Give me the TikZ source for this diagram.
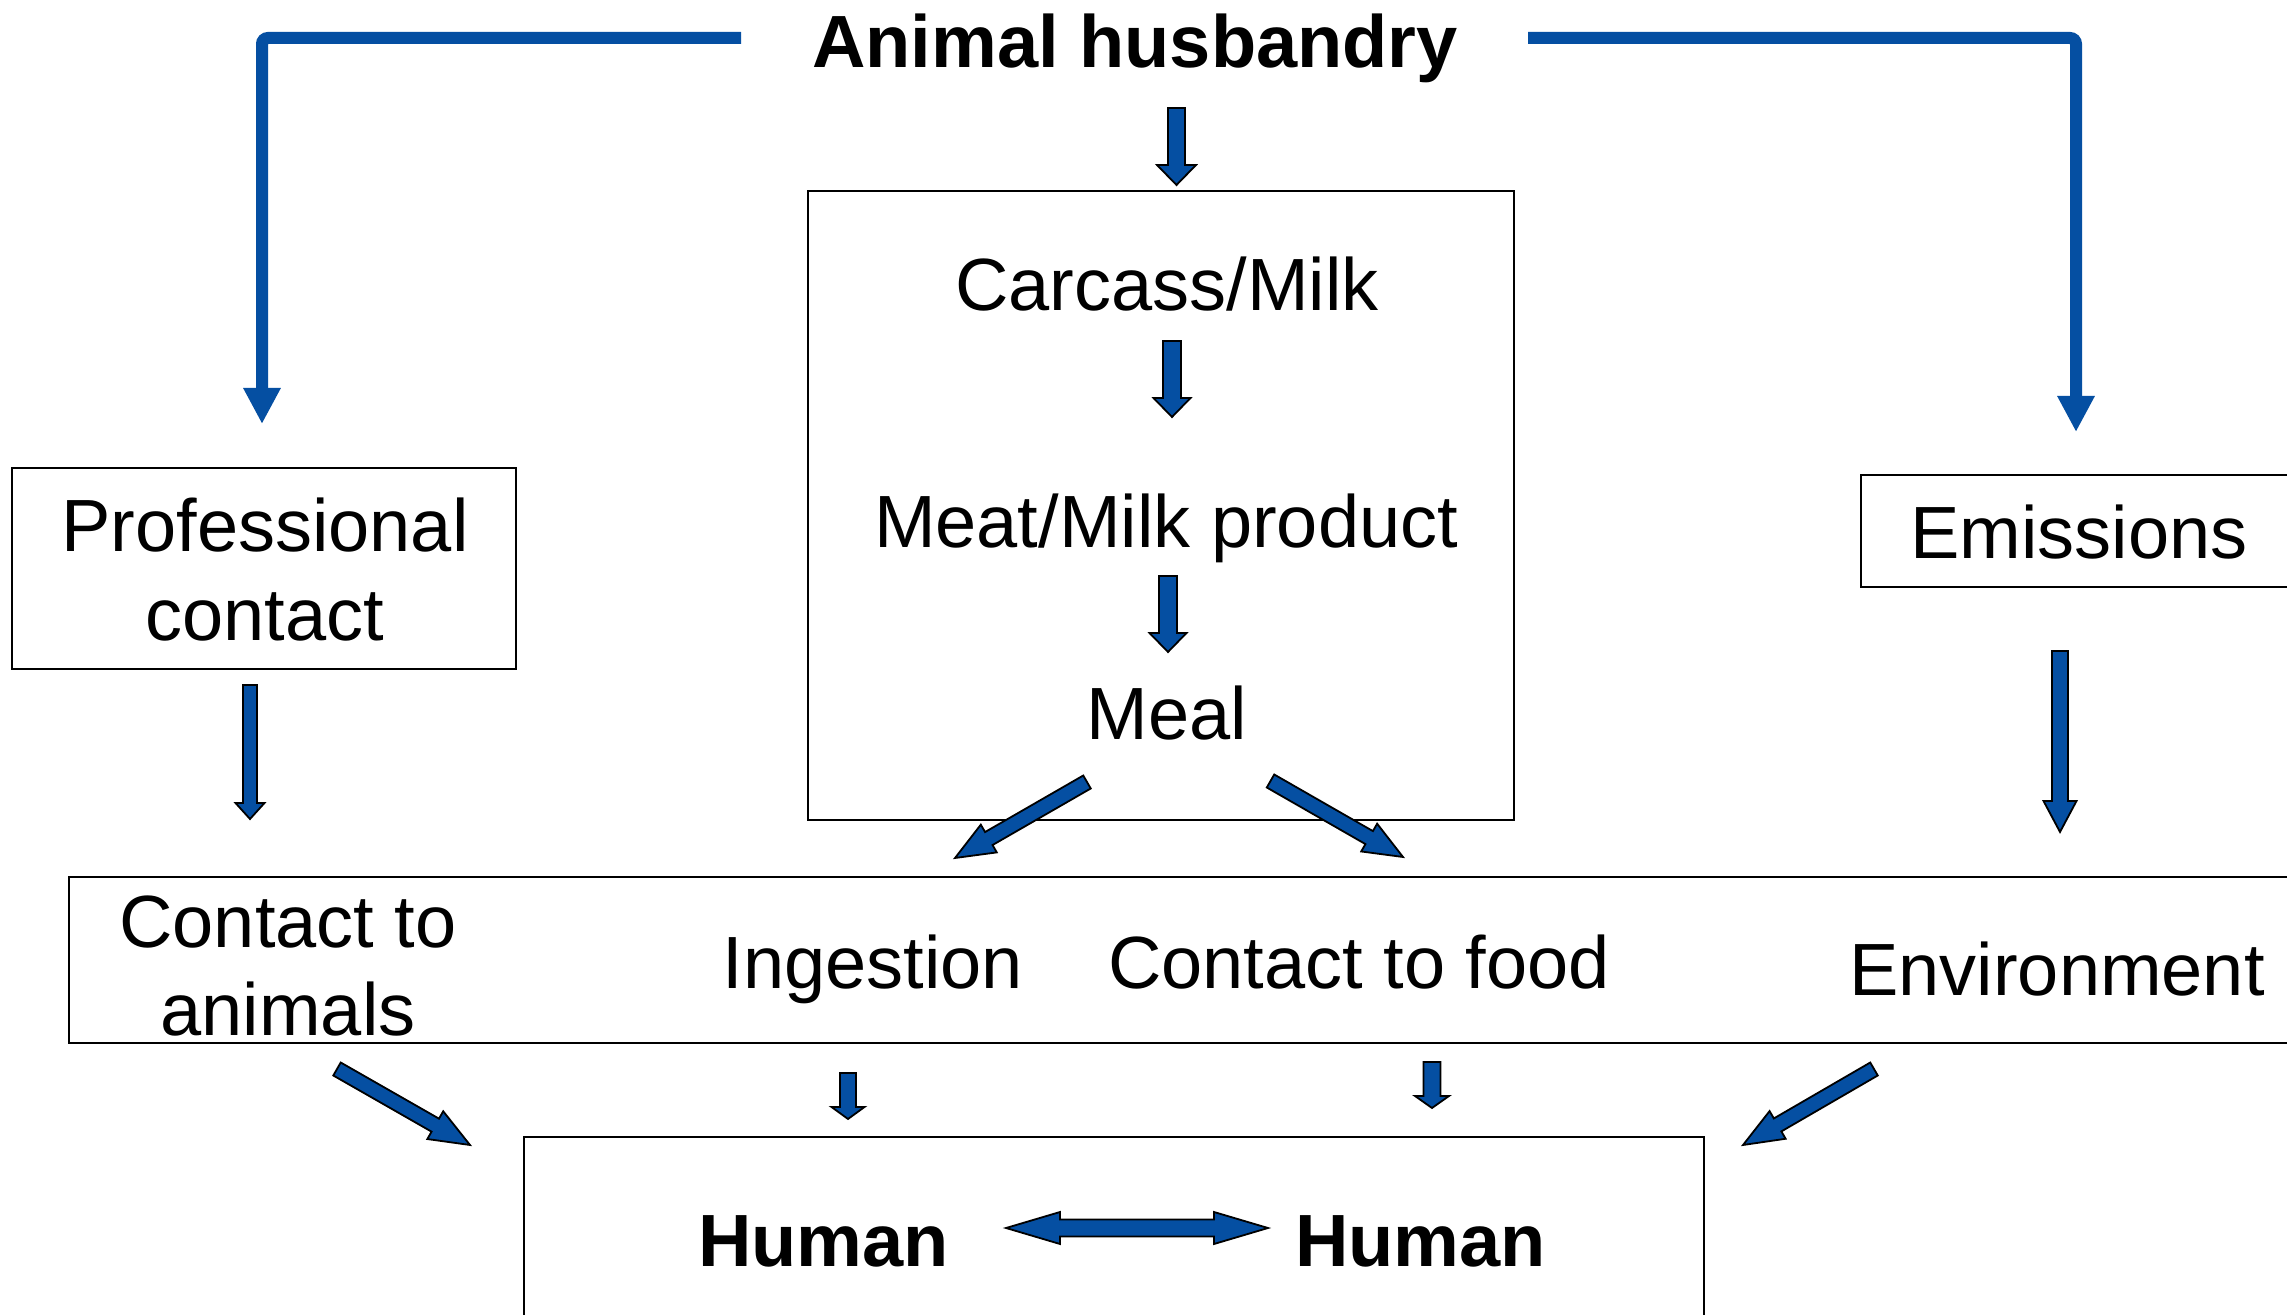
\documentclass[tikz,border=0pt]{standalone}
\usepackage{fontspec}
\setmainfont{Liberation Sans}
\usetikzlibrary{arrows.meta}
\definecolor{abblue}{RGB}{5,79,162}
\newcommand\twoline[3]{\vtop{\baselineskip=#3\halign{\hfil##\hfil\cr #1\cr #2\cr}}}
% block arrow: x1 y1 x2 y2 shaft-width head-width head-length (px)
\newcommand\barrow[7]{%
  \pgfmathsetmacro\bdx{#3-#1}%
  \pgfmathsetmacro\bdy{#4-#2}%
  \pgfmathsetmacro\bL{veclen(\bdx,\bdy)}%
  \pgfmathsetmacro\bA{atan2(-\bdy,\bdx)}%
  \pgfmathsetmacro\bB{\bL-#7}%
  \pgfmathsetmacro\bs{#5/2}%
  \pgfmathsetmacro\bh{#6/2}%
  \draw[blk, shift={(#1,#2)}, rotate=\bA] (0,\bs) -- (\bB,\bs) -- (\bB,\bh) -- (\bL,0) -- (\bB,-\bh) -- (\bB,-\bs) -- (0,-\bs) -- cycle;
}
\newcommand\dbarrow[7]{%
  \pgfmathsetmacro\bdx{#3-#1}%
  \pgfmathsetmacro\bdy{#4-#2}%
  \pgfmathsetmacro\bL{veclen(\bdx,\bdy)}%
  \pgfmathsetmacro\bA{atan2(-\bdy,\bdx)}%
  \pgfmathsetmacro\bB{\bL-#7}%
  \pgfmathsetmacro\bs{#5/2}%
  \pgfmathsetmacro\bh{#6/2}%
  \draw[blk, shift={(#1,#2)}, rotate=\bA] (0,0) -- (#7,\bh) -- (#7,\bs) -- (\bB,\bs) -- (\bB,\bh) -- (\bL,0) -- (\bB,-\bh) -- (\bB,-\bs) -- (#7,-\bs) -- (#7,-\bh) -- cycle;
}
\begin{document}
\begin{tikzpicture}[x=0.5pt,y=-0.5pt,
  txt/.style={inner sep=0pt, anchor=base, font=\fontsize{37}{44}\selectfont},
  btxt/.style={inner sep=0pt, anchor=base, font=\fontsize{37}{44}\selectfont\bfseries},
  box/.style={draw=black, line width=1pt, inner sep=0pt, rectangle},
  blk/.style={draw=black, line width=0.9pt, fill=abblue, line join=miter},
  bconn/.style={draw=abblue, line width=6pt, rounded corners=3pt, -{Triangle[width=17.5pt,length=18pt]}}]
\useasboundingbox (0,0) rectangle (2287,1315);
\clip (0,0) rectangle (2287,1315);
\fill[white] (0,0) rectangle (2287,1315);

% boxes
\node[box, minimum width=353pt, minimum height=314.5pt] (cbox) at (1161,505.5) {};
\node[box, minimum width=252pt, minimum height=100.5pt] (pbox) at (264,568.5) {};
\node[box, minimum width=215pt, minimum height=56pt] (ebox) at (2076,531) {};
\node[box, minimum width=1125.5pt, minimum height=83pt] (wbox) at (1194.5,960) {};
\node[box, minimum width=590pt, minimum height=106.5pt] (humbox) at (1114,1243.5) {};

% texts
\node[btxt] (ah) at (1135,68) {Animal husbandry};
\node[txt] (carc) at (1167,311) {Carcass/Milk};
\node[txt] (meat) at (1166,548) {Meat/Milk product};
\node[txt] (meal) at (1167,740) {Meal};
\node[txt] (prof) at (265,552) {\twoline{Professional}{contact}{44.5pt}};
\node[txt] (emis) at (2079,559) {Emissions};
\node[txt] (anim) at (288,947) {\twoline{Contact to}{animals}{44pt}};
\node[txt] (ing) at (873,988) {Ingestion};
\node[txt] (food) at (1359,988) {Contact to food};
\node[txt] (env) at (2057,995) {Environment};
\node[btxt] (h1) at (823.5,1266) {Human};
\node[btxt] (h2) at (1420.5,1266) {Human};

% L-shaped connectors
\coordinate (lstart) at (741,38);
\coordinate (ltip) at (262,424);
\draw[bconn] (lstart) -| (ltip);
\coordinate (rstart) at (1528,38);
\coordinate (rtip) at (2076,432);
\draw[bconn] (rstart) -| (rtip);

% block arrows
\barrow{1176.5}{108}{1176.5}{185}{17}{39}{20}
\barrow{1172}{341}{1172}{417}{18}{37}{19}
\barrow{1168}{576}{1168}{652}{18}{37}{19}
\barrow{250}{685}{250}{819}{14}{29}{16}
\barrow{2060}{651}{2060}{832}{16}{33}{31}
\barrow{1087}{782}{955}{858}{15}{32}{39}
\barrow{1270.5}{781}{1403}{857}{15}{32}{39}
\barrow{337}{1069}{470}{1145}{15}{32}{40}
\barrow{1874}{1069}{1743}{1145}{15}{32}{40}
\barrow{848}{1073}{848}{1119}{16}{33}{12}
\barrow{1432}{1062}{1432}{1108}{17}{34}{12}
\dbarrow{1006}{1228}{1268}{1228}{17}{32}{54}
\end{tikzpicture}
\end{document}
